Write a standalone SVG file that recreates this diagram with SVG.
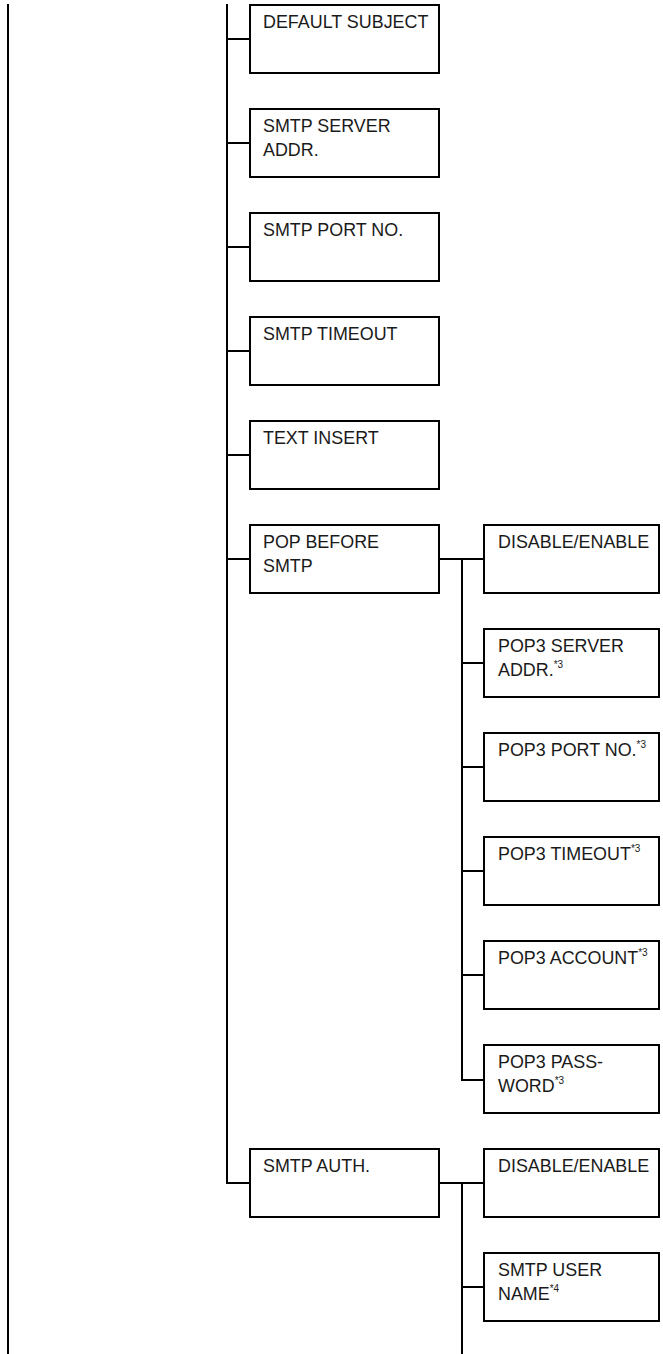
<svg xmlns="http://www.w3.org/2000/svg" width="663" height="1354" viewBox="0 0 663 1354">
<style>
.box{fill:#fff;stroke:#000;stroke-width:2}
.ln{stroke:#000;stroke-width:2;fill:none}
text{font-family:"Liberation Sans",Arial,sans-serif;font-size:17.9px;fill:#1a1a1a}
.sup{font-size:10px}
</style>
<g id="connectors">
<line class="ln" x1="8" y1="4" x2="8" y2="1354"/>
<line class="ln" x1="227" y1="4" x2="227" y2="1184"/>
<path class="ln" d="M227 39H250M227 143H250M227 247H250M227 351H250M227 455H250M227 559H250M227 1183H250"/>
<path class="ln" d="M439 559H484M462 559V1080H484M462 663H484M462 767H484M462 871H484M462 975H484"/>
<path class="ln" d="M439 1183H484M462 1183V1354M462 1287H484"/>
</g>
<g id="n1"><rect class="box" x="250" y="5" width="189" height="68"/><text x="263" y="28">DEFAULT SUBJECT</text></g>
<g id="n2"><rect class="box" x="250" y="109" width="189" height="68"/><text x="263" y="132">SMTP SERVER</text><text x="263" y="156">ADDR.</text></g>
<g id="n3"><rect class="box" x="250" y="213" width="189" height="68"/><text x="263" y="236">SMTP PORT NO.</text></g>
<g id="n4"><rect class="box" x="250" y="317" width="189" height="68"/><text x="263" y="340">SMTP TIMEOUT</text></g>
<g id="n5"><rect class="box" x="250" y="421" width="189" height="68"/><text x="263" y="444">TEXT INSERT</text></g>
<g id="n6"><rect class="box" x="250" y="525" width="189" height="68"/><text x="263" y="548">POP BEFORE</text><text x="263" y="572">SMTP</text></g>
<g id="n7"><rect class="box" x="484" y="525" width="175" height="68"/><text x="498" y="548">DISABLE/ENABLE</text></g>
<g id="n8"><rect class="box" x="484" y="629" width="175" height="68"/><text x="498" y="652">POP3 SERVER</text><text x="498" y="676">ADDR.<tspan class="sup" dy="-8">*3</tspan></text></g>
<g id="n9"><rect class="box" x="484" y="733" width="175" height="68"/><text x="498" y="756">POP3 PORT NO.<tspan class="sup" dy="-8">*3</tspan></text></g>
<g id="n10"><rect class="box" x="484" y="837" width="175" height="68"/><text x="498" y="860">POP3 TIMEOUT<tspan class="sup" dy="-8">*3</tspan></text></g>
<g id="n11"><rect class="box" x="484" y="941" width="175" height="68"/><text x="498" y="964">POP3 ACCOUNT<tspan class="sup" dy="-8">*3</tspan></text></g>
<g id="n12"><rect class="box" x="484" y="1045" width="175" height="68"/><text x="498" y="1068">POP3 PASS-</text><text x="498" y="1092">WORD<tspan class="sup" dy="-8">*3</tspan></text></g>
<g id="n13"><rect class="box" x="250" y="1149" width="189" height="68"/><text x="263" y="1172">SMTP AUTH.</text></g>
<g id="n14"><rect class="box" x="484" y="1149" width="175" height="68"/><text x="498" y="1172">DISABLE/ENABLE</text></g>
<g id="n15"><rect class="box" x="484" y="1253" width="175" height="68"/><text x="498" y="1276">SMTP USER</text><text x="498" y="1300">NAME<tspan class="sup" dy="-8">*4</tspan></text></g>
</svg>
